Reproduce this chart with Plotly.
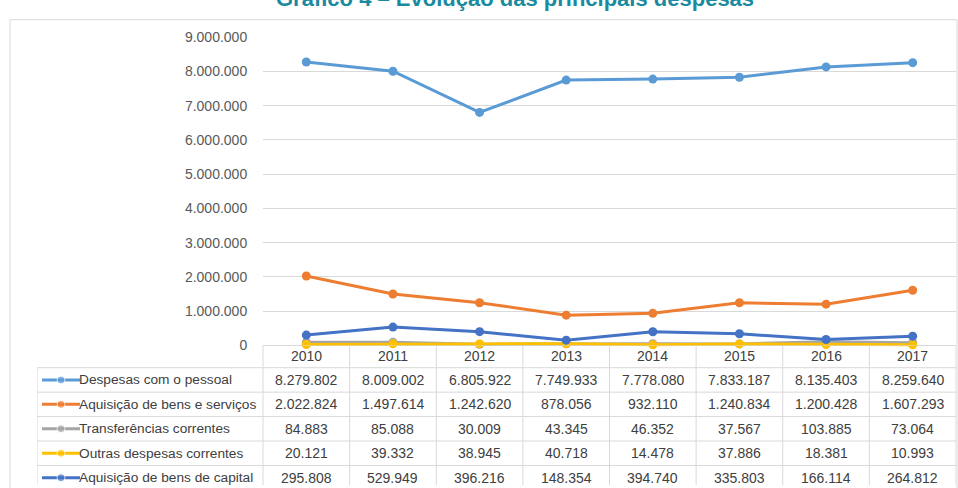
import plotly.graph_objects as go

years = ["2010", "2011", "2012", "2013", "2014", "2015", "2016", "2017"]
series_names = [
    "Despesas com o pessoal",
    "Aquisição de bens e serviços",
    "Transferências correntes",
    "Outras despesas correntes",
    "Aquisição de bens de capital",
]
despesas_pessoal = [8279802, 8009002, 6805922, 7749933, 7778080, 7833187, 8135403, 8259640]
bens_servicos = [2022824, 1497614, 1242620, 878056, 932110, 1240834, 1200428, 1607293]
transferencias = [84883, 85088, 30009, 43345, 46352, 37567, 103885, 73064]
outras_correntes = [20121, 39332, 38945, 40718, 14478, 37886, 18381, 10993]
bens_capital = [295808, 529949, 396216, 148354, 394740, 335803, 166114, 264812]
series_values = [despesas_pessoal, bens_servicos, transferencias, outras_correntes, bens_capital]
series_colors = ["#5B9BD5", "#ED7D31", "#A5A5A5", "#FFC000", "#4472C4"]
y_ticks = list(range(0, 9000001, 1000000))

W, H = 958, 488
FONT = "Liberation Sans"
FS = 14
TXT = "#404040"
GRID = "#D9D9D9"

PLOT_L, PLOT_R = 263, 956
COL_W = (PLOT_R - PLOT_L) / len(years)
TABLE_L = 37
ROW_H = 25
ROW0 = 380.5          # pixel centre of first data row
TABLE_TOP = 345


def fmt(v):
    return f"{v:,}".replace(",", ".")


def px2x(p):
    # pixel -> table x units (column k centred on k)
    return -0.5 + (p - PLOT_L) / COL_W


xidx = list(range(len(years)))
fig = go.Figure()

# main chart
for name, vals, col in zip(series_names, series_values, series_colors):
    fig.add_trace(go.Scatter(
        x=xidx, y=vals, name=name, mode="lines+markers",
        line=dict(color=col, width=3), marker=dict(size=9, color=col),
        cliponaxis=False, xaxis="x", yaxis="y", showlegend=False,
    ))

# legend keys inside the table
key_x = [px2x(42), px2x(61), px2x(80)]
for i, col in enumerate(series_colors):
    fig.add_trace(go.Scatter(
        x=key_x, y=[i, i, i], mode="lines+markers",
        line=dict(color=col, width=3), marker=dict(size=[0, 8, 0], color=col),
        xaxis="x2", yaxis="y2", showlegend=False, hoverinfo="skip",
    ))

# 35 px per million, zero sitting on the table's top border
y_lo, y_hi = -150000, 9000000
scale = 35 / 1e6
ydom = [1 - (TABLE_TOP - y_lo * scale) / H, 1 - (TABLE_TOP - y_hi * scale) / H]

t_top = (TABLE_TOP - ROW0) / ROW_H
t_bot = (H - ROW0) / ROW_H
x2_left = px2x(TABLE_L)

shapes = []
line = dict(color=GRID, width=1)
shapes.append(dict(type="line", xref="x2", yref="y2", x0=-0.5, x1=len(years) - 0.5,
                   y0=t_top, y1=t_top, line=line))
for i in range(len(series_names)):
    shapes.append(dict(type="line", xref="x2", yref="y2", x0=x2_left, x1=len(years) - 0.5,
                       y0=i - 0.5, y1=i - 0.5, line=line))
for k in range(len(years) + 1):
    shapes.append(dict(type="line", xref="x2", yref="y2", x0=k - 0.5, x1=k - 0.5,
                       y0=t_top, y1=t_bot, line=line))
shapes.append(dict(type="line", xref="x2", yref="y2", x0=x2_left, x1=x2_left,
                   y0=-0.5, y1=t_bot, line=line))
# outer chart frame
shapes.append(dict(type="rect", xref="paper", yref="paper", x0=10 / W, x1=957 / W,
                   y0=-0.05, y1=1 - 12 / H, line=line, fillcolor="rgba(0,0,0,0)", layer="below"))

ann = []
hdr_y = (356.5 - ROW0) / ROW_H
for k, yr in enumerate(years):
    ann.append(dict(x=k, y=hdr_y, xref="x2", yref="y2", text=yr, showarrow=False,
                    font=dict(family=FONT, size=FS, color=TXT)))
for i, (name, vals) in enumerate(zip(series_names, series_values)):
    ann.append(dict(x=px2x(80), y=i, xref="x2", yref="y2", text=name, showarrow=False,
                    xanchor="left", xshift=-3, font=dict(family=FONT, size=FS - 0.3, color=TXT)))
    for k, v in enumerate(vals):
        ann.append(dict(x=k, y=i, xref="x2", yref="y2", text=fmt(v), showarrow=False,
                        font=dict(family=FONT, size=FS, color=TXT)))
# the title is cropped at the top edge, as in the source image
ann.append(dict(x=515 / W, y=1 - 5 / H, xref="paper", yref="paper", yanchor="bottom",
                text="<b>Gráfico 4 – Evolução das principais despesas</b>", showarrow=False,
                font=dict(family=FONT, size=22, color="#1A8AA0")))

fig.update_layout(
    width=W, height=H, margin=dict(l=0, r=0, t=0, b=0),
    paper_bgcolor="white", plot_bgcolor="rgba(0,0,0,0)",
    separators=",.",
    font=dict(family=FONT, color=TXT),
    xaxis=dict(domain=[PLOT_L / W, PLOT_R / W], range=[-0.5, len(years) - 0.5],
               visible=False, anchor="y"),
    yaxis=dict(domain=ydom, range=[y_lo, y_hi], tickvals=y_ticks, tickformat=",d",
               showgrid=True, gridcolor=GRID, gridwidth=1, zeroline=False,
               showline=False, ticks="outside", ticklen=12, tickcolor="rgba(0,0,0,0)",
               tickfont=dict(family=FONT, size=FS, color="#595959"), anchor="x"),
    xaxis2=dict(domain=[TABLE_L / W, PLOT_R / W], range=[x2_left, len(years) - 0.5],
                visible=False, anchor="y2"),
    yaxis2=dict(domain=[0, 1 - TABLE_TOP / H], range=[t_bot, t_top], visible=False,
                anchor="x2"),
    shapes=shapes, annotations=ann, showlegend=False,
)

# drop the browser's default body margin so the figure sits at the page origin
fig.write_html("out.html", config={"displayModeBar": False},
               post_script="document.body.style.margin='0';")
